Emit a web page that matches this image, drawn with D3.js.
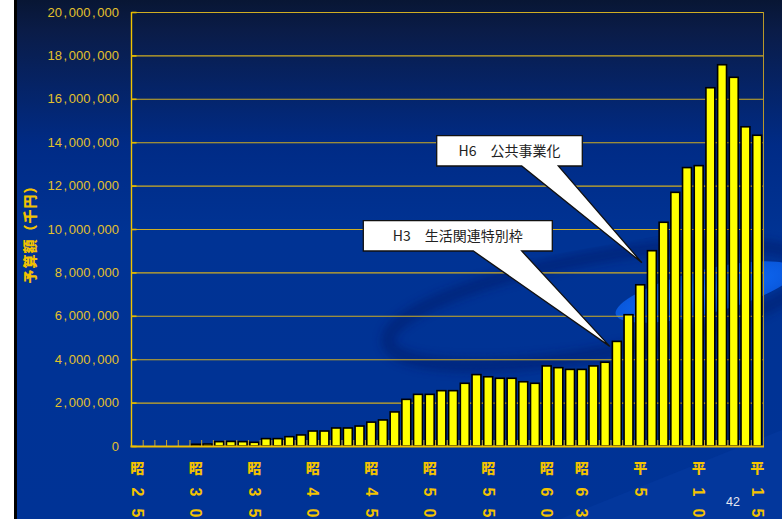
<!DOCTYPE html>
<html>
<head>
<meta charset="utf-8">
<script src="https://cdn.jsdelivr.net/npm/d3@7"></script>
<style>
html, body { margin: 0; padding: 0; background: #ffffff; }
svg { display: block; }
</style>
</head>
<body>
<script>
// ---- data ----
const years = [1950,1951,1952,1953,1954,1955,1956,1957,1958,1959,
               1960,1961,1962,1963,1964,1965,1966,1967,1968,1969,
               1970,1971,1972,1973,1974,1975,1976,1977,1978,1979,
               1980,1981,1982,1983,1984,1985,1986,1987,1988,1989,
               1990,1991,1992,1993,1994,1995,1996,1997,1998,1999,
               2000,2001,2002,2003];
// 予算額（千円）
const budget = [0,0,0,0,0,80000,90000,200000,210000,200000,
                170000,340000,340000,430000,510000,690000,690000,830000,830000,920000,
                1100000,1200000,1570000,2150000,2380000,2380000,2550000,2550000,2890000,3290000,
                3190000,3120000,3120000,2960000,2890000,3690000,3610000,3530000,3530000,3690000,
                3860000,4820000,6050000,7430000,9000000,10310000,11690000,12830000,12920000,16510000,
                17570000,16990000,14710000,14320000];
const tickYears  = [1950, 1955, 1960, 1965, 1970, 1975, 1980, 1985, 1988, 1993, 1998, 2003];
const tickLabels = ["昭25","昭30","昭35","昭40","昭45","昭50","昭55","昭60","昭63","平5","平10","平15"];
const yTicks = [0,2000000,4000000,6000000,8000000,10000000,12000000,14000000,16000000,18000000,20000000];
const yTitle = "予算額（千円）";
const notes = [
  { year: 1991, text: "H3\u2003生活関連特別枠" },
  { year: 1994, text: "H6\u2003公共事業化" }
];
const pageNo = "42";

// ---- layout ----
const W = 782, H = 519;
const plot = { left: 131.5, right: 763, top: 12, bottom: 446 };

const svg = d3.select("body").append("svg").attr("width", W).attr("height", H);
const defs = svg.append("defs");
const bg = defs.append("linearGradient").attr("id","bg").attr("x1",0).attr("y1",0).attr("x2",0).attr("y2",1);
bg.append("stop").attr("offset","0%").attr("stop-color","#081634");
bg.append("stop").attr("offset","6%").attr("stop-color","#0a1c48");
bg.append("stop").attr("offset","28%").attr("stop-color","#002b86");
bg.append("stop").attr("offset","45%").attr("stop-color","#003394");
bg.append("stop").attr("offset","100%").attr("stop-color","#003396");
const glow = defs.append("radialGradient").attr("id","glow");
glow.append("stop").attr("offset","0%").attr("stop-color","#1f78ff");
glow.append("stop").attr("offset","75%").attr("stop-color","#0c62ec");
glow.append("stop").attr("offset","100%").attr("stop-color","#0a5ae0");
defs.append("filter").attr("id","blur").append("feGaussianBlur").attr("stdDeviation", 4);

// slide background
svg.append("rect").attr("x",0).attr("y",0).attr("width",W).attr("height",H).attr("fill","#ffffff");
svg.append("rect").attr("x",14).attr("y",0).attr("width",W-14).attr("height",H).attr("fill","url(#bg)");
svg.append("rect").attr("x",14).attr("y",0).attr("width",3).attr("height",H).attr("fill","#000000");

// decorative swoosh
const deco = svg.append("g");
deco.append("ellipse").attr("cx",600).attr("cy",305).attr("rx",215).attr("ry",48)
  .attr("transform","rotate(-10 600 305)").attr("fill","none")
  .attr("stroke","#001f6e").attr("stroke-width",14).attr("opacity",0.55).attr("filter","url(#blur)");
deco.append("ellipse").attr("cx",705).attr("cy",292).attr("rx",92).attr("ry",22)
  .attr("transform","rotate(-14 705 292)").attr("fill","url(#glow)").attr("opacity",0.95);
deco.append("path").attr("d","M560,519 L782,430 L782,519 Z").attr("fill","#0a3ea8").attr("opacity",0.35);

// ---- scales ----
const x = d3.scaleBand().domain(years).range([plot.left, plot.right])
  .paddingInner(0.24).paddingOuter(0.12);
const y = d3.scaleLinear().domain([0, 20000000]).range([plot.bottom, plot.top]);
const step = x.step();
const cx = d => x(d) + x.bandwidth() / 2;

// grid lines
svg.append("g").selectAll("line").data(yTicks.filter(v => v > 0)).join("line")
  .attr("x1", plot.left).attr("x2", plot.right)
  .attr("y1", d => y(d) + 0.5).attr("y2", d => y(d) + 0.5)
  .attr("stroke", "#cfae22").attr("stroke-width", 1.1);
// right border
svg.append("line").attr("x1", plot.right + 0.5).attr("x2", plot.right + 0.5)
  .attr("y1", plot.top).attr("y2", plot.bottom).attr("stroke","#b8982a").attr("stroke-width",1);

// y axis line + inner ticks
svg.append("line").attr("x1", plot.left).attr("x2", plot.left)
  .attr("y1", plot.top).attr("y2", plot.bottom + 1).attr("stroke","#f0c400").attr("stroke-width",1.4);
svg.append("g").selectAll("line").data(yTicks).join("line")
  .attr("x1", plot.left).attr("x2", plot.left + 5)
  .attr("y1", d => y(d) + 0.5).attr("y2", d => y(d) + 0.5)
  .attr("stroke","#e0b800").attr("stroke-width",1.6);

// y tick labels
const fmt = d3.format(",");
const yl = svg.append("g").attr("font-family","'Liberation Sans', Arial, sans-serif")
  .attr("font-size", 13).attr("fill", "#e3c12c").attr("text-anchor","end");
yTicks.forEach(v => {
  const t = yl.append("text").attr("x", 119).attr("y", y(v)).attr("dy", "0.36em");
  const parts = fmt(v).split(",");
  parts.forEach((p, i) => {
    if (i > 0) t.append("tspan").attr("dx", 1.6).text(",");
    t.append("tspan").attr("dx", i > 0 ? 1.6 : 0).text(p);
  });
});

// y title
svg.append("text").attr("transform", "translate(35,231) rotate(-90)")
  .attr("text-anchor","middle").attr("font-family","'Noto Sans CJK JP', sans-serif")
  .attr("font-weight","900").attr("font-size",14).attr("fill","#f2c200")
  .attr("letter-spacing", 1)
  .text(yTitle);

// bars
svg.append("g").selectAll("rect").data(years.map((yr, i) => ({ yr, v: budget[i] }))).join("rect")
  .attr("x", d => x(d.yr)).attr("width", x.bandwidth())
  .attr("y", d => y(d.v)).attr("height", d => plot.bottom - y(d.v))
  .attr("fill", "#ffff00").attr("stroke", "#000000").attr("stroke-width", 1.6);

// x axis line + category tick marks (inside)
const bounds = years.map(d => cx(d) - step / 2).concat([plot.right]);
svg.append("g").selectAll("line").data(bounds.slice(1, -1)).join("line")
  .attr("x1", d => d).attr("x2", d => d).attr("y1", plot.bottom - 6).attr("y2", plot.bottom)
  .attr("stroke", "#c8a830").attr("stroke-width", 1);
svg.append("line").attr("x1", plot.left - 1).attr("x2", plot.right + 1)
  .attr("y1", plot.bottom + 0.5).attr("y2", plot.bottom + 0.5)
  .attr("stroke", "#f0c000").attr("stroke-width", 2.2);

// x labels (vertical)
const xl = svg.append("g").attr("font-family","'Noto Sans CJK JP', sans-serif")
  .attr("font-weight","900").attr("fill","#f4c300");
const rowY = [468, 492, 513];
tickYears.forEach((yr, k) => {
  const chars = Array.from(tickLabels[k]);
  chars.forEach((ch, j) => {
    const px = cx(yr), py = rowY[j];
    if (j === 0) {
      xl.append("text").attr("x", px).attr("y", py).attr("dy","0.36em")
        .attr("text-anchor","middle").attr("font-size", 14).text(ch);
    } else {
      xl.append("text").attr("transform", `translate(${px},${py}) rotate(90)`)
        .attr("dy","0.35em").attr("text-anchor","middle")
        .attr("font-family","'Liberation Sans', Arial, sans-serif").attr("font-weight","bold")
        .attr("font-size", 16).text(ch);
    }
  });
});

// callouts
const boxes = [
  { L: 363.3, R: 552.3, T: 220.7, B: 251, w0: 473.3, w1: 521.7, dx: -7, dy: 5 },
  { L: 436.7, R: 582.3, T: 135.7, B: 166, w0: 521.7, w1: 558.3, dx: -10, dy: 12 }
];
const cg = svg.append("g");
notes.forEach((n, i) => {
  const b = boxes[i];
  const i0 = years.indexOf(n.year);
  const tx = cx(n.year) + b.dx, ty = y(budget[i0]) + b.dy;
  const p = d3.path();
  p.moveTo(b.L, b.T); p.lineTo(b.R, b.T); p.lineTo(b.R, b.B); p.lineTo(b.w1, b.B);
  p.lineTo(tx, ty); p.lineTo(b.w0, b.B); p.lineTo(b.L, b.B); p.closePath();
  cg.append("path").attr("d", p.toString()).attr("fill", "#ffffff")
    .attr("stroke", "#111111").attr("stroke-width", 1.3).attr("stroke-linejoin","miter");
  cg.append("text").attr("x", (b.L + b.R) / 2).attr("y", (b.T + b.B) / 2).attr("dy","0.36em")
    .attr("text-anchor","middle").attr("font-family","'Noto Sans CJK JP', sans-serif")
    .attr("font-size", 14).attr("fill","#222222").text(n.text);
});

// page number
svg.append("text").attr("x", 733).attr("y", 501).attr("dy","0.36em").attr("text-anchor","middle")
  .attr("font-family","'Liberation Sans', Arial, sans-serif").attr("font-size", 12.5)
  .attr("fill","#e4e6f0").text(pageNo);
</script>
</body>
</html>
